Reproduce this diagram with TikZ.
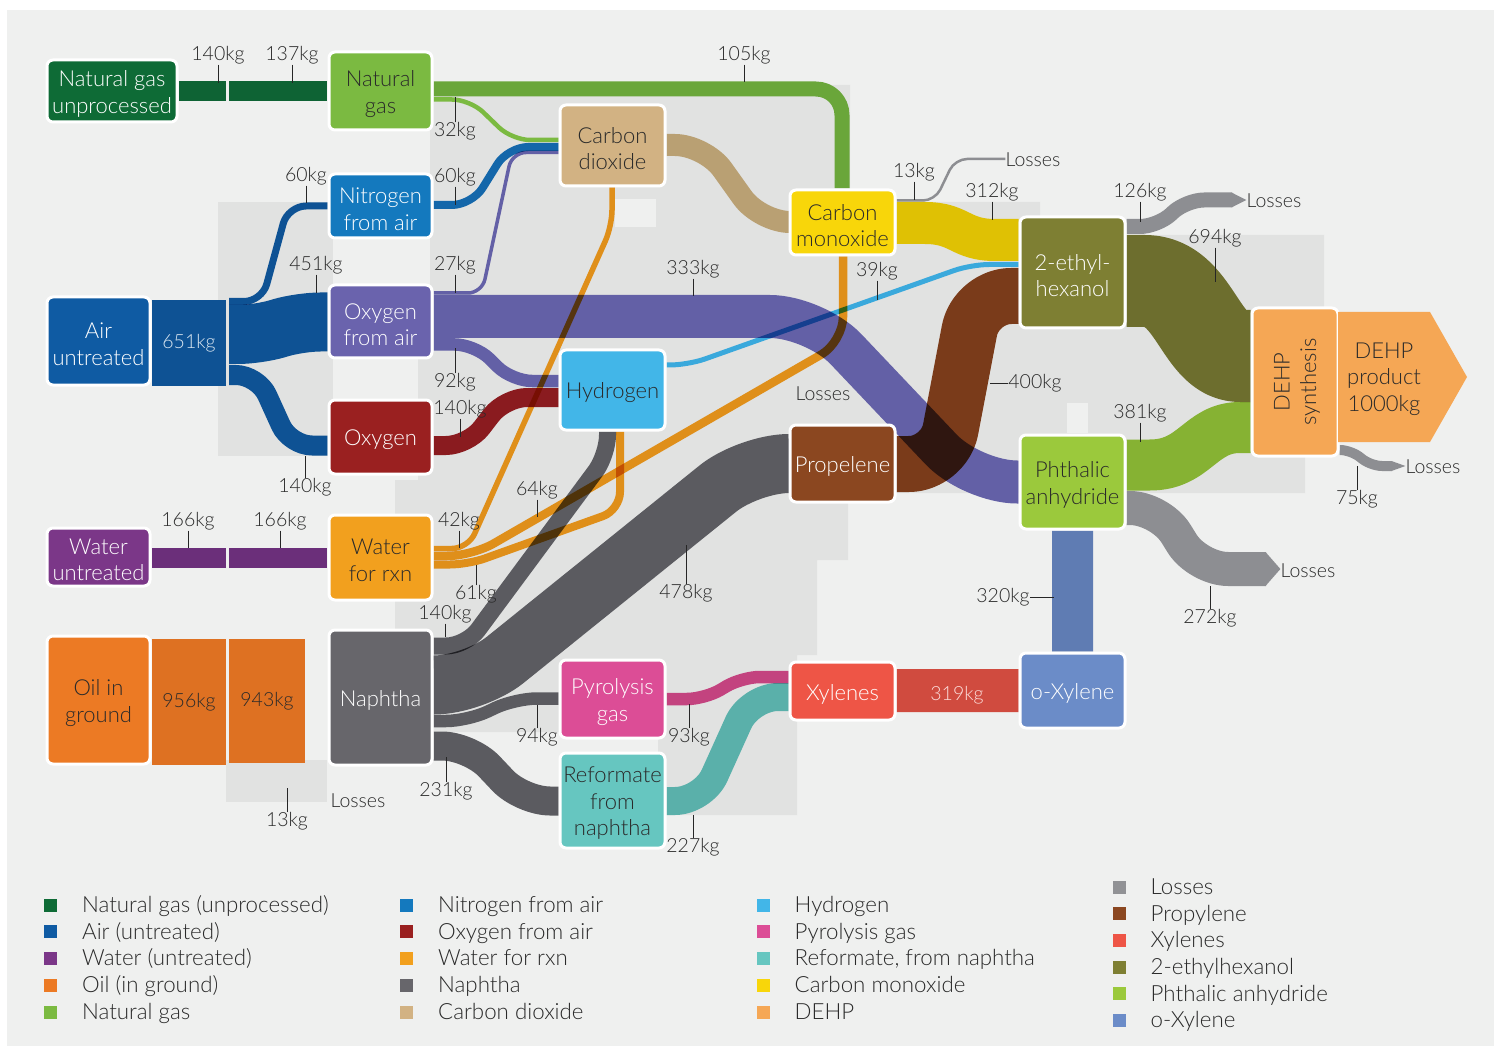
\documentclass[tikz,border=0pt]{standalone}
\usepackage{fontspec}
\setmainfont{Lato}[UprightFont=* Light]
\usetikzlibrary{calc}
\pgfdeclarelayer{bglayer}
\pgfdeclarelayer{flowlayer}
\pgfsetlayers{bglayer,flowlayer,main}
\definecolor{cBG}{HTML}{EFF0EF}
\definecolor{cPNL}{HTML}{E1E2E1}
\definecolor{cTXT}{HTML}{2A2A2A}
\definecolor{cNGU}{HTML}{0E6B36}\definecolor{cNGUb}{HTML}{0E6334}
\definecolor{cNG}{HTML}{7BBA41}\definecolor{cNGf}{HTML}{6AA63A}
\definecolor{cN2}{HTML}{1479BE}\definecolor{cN2f}{HTML}{1467AA}
\definecolor{cOFA}{HTML}{6A63AD}\definecolor{cOFAf}{HTML}{6360A6}
\definecolor{cAIR}{HTML}{0F5BA3}\definecolor{cAIRf}{HTML}{0E5294}
\definecolor{cOXY}{HTML}{9A2020}\definecolor{cOXYf}{HTML}{8A1B1F}
\definecolor{cWU}{HTML}{7B3788}\definecolor{cWUb}{HTML}{6B2F7A}
\definecolor{cWFR}{HTML}{F2A01E}\definecolor{cWFRf}{HTML}{DF8F1A}
\definecolor{cOIL}{HTML}{EC7A24}\definecolor{cOILb}{HTML}{DE7122}
\definecolor{cNAP}{HTML}{67666B}\definecolor{cNAPf}{HTML}{5B5B60}
\definecolor{cCO2}{HTML}{D2B283}\definecolor{cCO2f}{HTML}{B9A073}
\definecolor{cH2}{HTML}{42B6E8}\definecolor{cH2f}{HTML}{3AA9DC}
\definecolor{cCO}{HTML}{F8D60A}\definecolor{cCOf}{HTML}{DFC104}
\definecolor{cPROP}{HTML}{8B4720}\definecolor{cPROPf}{HTML}{7A3B1A}
\definecolor{cPYR}{HTML}{DC4D96}\definecolor{cPYRf}{HTML}{C3437F}
\definecolor{cREF}{HTML}{66C6C0}\definecolor{cREFf}{HTML}{5AB0AA}
\definecolor{cXYL}{HTML}{EE5546}\definecolor{cXYLf}{HTML}{D04B3F}
\definecolor{cOXL}{HTML}{6B8CC8}\definecolor{cOXLf}{HTML}{5F7CB3}
\definecolor{cEH}{HTML}{7E7F33}\definecolor{cEHf}{HTML}{6D6E2E}
\definecolor{cPA}{HTML}{9BC93C}\definecolor{cPAf}{HTML}{86B233}
\definecolor{cDEHP}{HTML}{F5A755}
\definecolor{cLOSS}{HTML}{8D8E92}\definecolor{cLOSSk}{HTML}{919295}
\newcommand{\nfont}{\fontsize{22}{26.5}\selectfont}
\newcommand{\lfont}{\fontsize{19.5}{24}\selectfont}
\newcommand{\gfont}{\fontsize{22.3}{26}\selectfont}
\begin{document}
\begin{tikzpicture}[x=1pt,y=-1pt,
  bx/.style={draw=white, line width=3pt, rounded corners=6pt, inner sep=0pt, align=center, font=\nfont},
  bar/.style={inner sep=0pt, font=\lfont},
  fl/.style={line cap=butt, line join=round},
  lbl/.style={font=\lfont, text=cTXT, inner sep=0pt, text height=14pt, text depth=4pt, yshift=-2.5pt},
  tk/.style={draw=black!85, line width=1pt},
  lsq/.style={inner sep=0pt, minimum width=13pt, minimum height=13pt},
  ltx/.style={font=\gfont, text=cTXT, inner sep=0pt, anchor=west, text height=15pt, text depth=5pt, yshift=-2.5pt}]
\useasboundingbox (0,0) rectangle (1496,1048);
\begin{pgfonlayer}{bglayer}
\fill[white] (0,0) rectangle (1496,1048);
\fill[cBG] (7,10) rectangle (1494,1046);
\fill[cPNL] (430,85) -- (850,85) -- (850,202) -- (1040,202) -- (1040,235) -- (1324,235) -- (1324,457) -- (1305,457) -- (1305,493) -- (848,493) -- (848,560) -- (817,560) -- (817,655) -- (797,655) -- (797,815) -- (658,815) -- (658,732) -- (395,732) -- (395,480) -- (418,480) -- (418,358) -- (430,358) -- cycle;
\fill[cPNL] (218,202) rectangle (333,456);
\fill[cPNL] (226,760) rectangle (327,802);
\fill[cBG] (615,199) rectangle (656,227);
\fill[cBG] (1067,403) rectangle (1088,433);
\end{pgfonlayer}

% nodes
\foreach \n/\c/\t/\w/\h/\x/\y/\s in {
 ngu/cNGU/white/130/62/112/91/{Natural gas\\unprocessed},
 ng/cNG/cTXT/103/78/380.5/91/{Natural\\gas},
 nfa/cN2/white/103/64/380.5/206/{Nitrogen\\from air},
 ofa/cOFA/white/103/73/380.5/321.5/{Oxygen\\from air},
 air/cAIR/white/103/88/98.5/341/{Air\\untreated},
 oxy/cOXY/white/103/74/380.5/437/{Oxygen},
 wu/cWU/white/103/58/98.5/557/{Water\\untreated},
 wfr/cWFR/cTXT/103/85/380.5/557.5/{Water\\for rxn},
 oil/cOIL/cTXT/103/128/98.5/700/{Oil in\\ground},
 nap/cNAP/white/103/135/380.5/697.5/{Naphtha},
 co2/cCO2/cTXT/105/81/612.5/145.5/{Carbon\\dioxide},
 h2/cH2/cTXT/105/80/612.5/390/{Hydrogen},
 com/cCO/cTXT/105/65/842.5/222.5/{Carbon\\monoxide},
 prop/cPROP/white/105/77/842.5/463.5/{Propelene},
 pyr/cPYR/white/105/78/612.5/699/{Pyrolysis\\gas},
 ref/cREF/cTXT/105/95/612.5/800.5/{Reformate\\from\\naphtha},
 xyl/cXYL/white/105/58/842.5/691/{Xylenes},
 oxyl/cOXL/white/105/75/1072.5/690.5/{o-Xylene},
 eh/cEH/white/105/111/1072.5/272.5/{2-ethyl-\\hexanol},
 pa/cPA/cTXT/105/94/1072.5/482/{Phthalic\\anhydride},
 dehps/cDEHP/cTXT/86/148/1295/382/{}}
 {\node[bx, fill=\c, text=\t, minimum width=\w pt, minimum height=\h pt] (\n) at (\x,\y) {\raisebox{-3pt}[\height][\depth]{\parbox{\w pt}{\centering\s}}};}
\node[rotate=90, font=\nfont, text=cTXT, align=center, inner sep=0pt] (dehpst) at (1297,382) {DEHP\\synthesis};
\fill[cDEHP] (1338,312) -- (1430,312) -- (1467,377) -- (1430,442) -- (1338,442) -- cycle;
\node[font=\nfont, text=cTXT, align=center, inner sep=0pt] (dehp) at (1384,379) {DEHP\\product\\1000kg};

% bars
\node[bar, fill=cNGUb, minimum width=47pt, minimum height=20pt] (ngb1) at (202.5,91) {};
\node[bar, fill=cNGUb, minimum width=98pt, minimum height=20pt] (ngb2) at (278,91) {};
\node[bar, fill=cAIRf, text=white!85!cAIR, minimum width=74pt, minimum height=86pt] (b651) at (189,343) {651kg};
\node[bar, fill=cWUb, minimum width=74pt, minimum height=20pt] (wb1) at (189,558) {};
\node[bar, fill=cWUb, minimum width=98pt, minimum height=20pt] (wb2) at (278,558) {};
\node[bar, fill=cOILb, text=cTXT, minimum width=74pt, minimum height=126pt] (ob1) at (189,702) {956kg};
\node[bar, fill=cOILb, text=cTXT, minimum width=76pt, minimum height=124pt] (ob2) at (267,701) {943kg};
\coordinate (asp) at (229,341);

\node[lbl] (los1) at (1033,159) {Losses};
\node[lbl] (los2) at (1274,200) {Losses};
\node[lbl] (los3) at (1433,466) {Losses};
\node[lbl] (los4) at (1308,570) {Losses};
\node[lbl] (los5) at (823,393) {Losses};
\node[lbl] (los6) at (358,800) {Losses};

% flows
\begin{pgfonlayer}{flowlayer}
\begin{scope}[blend group=multiply]
\draw[fl, cNGf, line width=15pt, rounded corners=26pt] (ng.east |- 0,89) -- (842,89) -- (com.north -| 842,0);
\draw[fl, cNG, line width=4.5pt, rounded corners=18pt] (ng.east |- 0,99.5) -- (470,99.5) -- (512,140) -- (co2.west |- 0,140);
\draw[fl, cN2f, line width=8pt, rounded corners=20pt] (nfa.east |- 0,205) -- (472,205) -- (508,147) -- (co2.west |- 0,147);
\draw[fl, cOFAf, line width=3.5pt, rounded corners=14pt] (ofa.east |- 0,293) -- (482,293) -- (512,152.5) -- (co2.west |- 0,152.5);
\draw[fl, cOFAf, line width=43pt, rounded corners=45pt] (ofa.east |- 0,316.5) -- (815,316.5) -- (972,482) -- (pa.west |- 0,482);
\draw[fl, cOFAf, line width=12.5pt, rounded corners=20pt] (ofa.east |- 0,344.5) -- (475,344.5) -- (512,381) -- (h2.west |- 0,381);
\draw[fl, cOXYf, line width=19pt, rounded corners=22pt] (oxy.east |- 0,445.5) -- (468,445.5) -- (505,397.5) -- (h2.west |- 0,397.5);
\draw[fl, cAIRf, line width=7pt, rounded corners=18pt] (asp |- 0,301.5) -- (262,301.5) -- (288,206) -- (nfa.west |- 0,206);
\draw[fl, cAIRf, line width=59pt, rounded corners=20pt] (asp |- 0,334.5) -- (258,334.5) -- (300,322) -- (ofa.west |- 0,322);
\draw[fl, cAIRf, line width=20pt, rounded corners=22pt] (asp |- 0,375) -- (258,375) -- (290,445.5) -- (oxy.west |- 0,445.5);
\draw[fl, cWFRf, line width=5.5pt, rounded corners=16pt] (wfr.east |- 0,548.5) -- (468,548.5) -- (612,226) -- (co2.south -| 612,0);
\draw[fl, cWFRf, line width=8.5pt, rounded corners=25pt] (wfr.east |- 0,556) -- (472,556) -- (843,342) -- (com.south -| 843,0);
\draw[fl, cWFRf, line width=8pt, rounded corners=18pt] (wfr.east |- 0,564.5) -- (468,564.5) -- (620,510) -- (h2.south -| 620,0);
\draw[fl, cNAPf, line width=17pt, rounded corners=20pt] (nap.east |- 0,646) -- (466,646) -- (607.5,455) -- (h2.south -| 607.5,0);
\draw[fl, cNAPf, line width=59pt, rounded corners=40pt] (nap.east |- 0,685) -- (474,685) -- (749,463.5) -- (prop.west |- 0,463.5);
\draw[fl, cNAPf, line width=12.5pt, rounded corners=22pt] (nap.east |- 0,721) -- (468,721) -- (515,698.5) -- (pyr.west |- 0,698.5);
\draw[fl, cNAPf, line width=29pt, rounded corners=28pt] (nap.east |- 0,746) -- (470,746) -- (522,801) -- (ref.west |- 0,801);
\draw[fl, cCO2f, line width=22pt, rounded corners=30pt] (co2.east |- 0,145) -- (705,145) -- (760,222) -- (com.west |- 0,222);
\draw[fl, cH2f, line width=5pt, rounded corners=18pt] (h2.east |- 0,365) -- (688,365) -- (971,264.5) -- (eh.west |- 0,264.5);
\draw[fl, cCOf, line width=42pt] (com.east |- 0,223) -- (925,223) .. controls (960,223) and (960,240) .. (995,240) -- (eh.west |- 0,240);
\draw[fl, cLOSS, line width=2.5pt, rounded corners=12pt] (com.east |- 0,200.5) -- (935,200.5) -- (955,159) -- (los1.west |- 0,159);
\draw[fl, cPROPf, line width=56pt, rounded corners=35pt] (prop.east |- 0,464) -- (944,464) -- (976,296) -- (eh.west |- 0,296);
\draw[fl, cPYRf, line width=12.5pt, rounded corners=18pt] (pyr.east |- 0,699) -- (705,699) -- (742,677) -- (xyl.west |- 0,677);
\draw[fl, cREFf, line width=28pt, rounded corners=28pt] (ref.east |- 0,801) -- (703,801) -- (750,697) -- (xyl.west |- 0,697);
\draw[fl, cXYLf, line width=43pt] (xyl.east |- 0,690.5) -- (oxyl.west |- 0,690.5);
\draw[fl, cOXLf, line width=41pt] (oxyl.north) -- (pa.south);
\draw[fl, cEHf, line width=92pt] (eh.east |- 0,281) -- (1145,281) .. controls (1195,281) and (1200,356) .. (1240,356) -- (dehps.west |- 0,356);
\draw[fl, cPAf, line width=51pt] (pa.east |- 0,465) -- (1150,465) .. controls (1195,465) and (1200,427.5) .. (1240,427.5) -- (dehps.west |- 0,427.5);
\draw[fl, cLOSS, line width=15pt, rounded corners=18pt] (eh.east |- 0,226.5) -- (1158,226.5) -- (1186,200) -- (1232,200) coordinate (T2);
\draw[fl, cLOSS, line width=34pt, rounded corners=30pt] (pa.east |- 0,508) -- (1160,508) -- (1198,569) -- (1266,569) coordinate (T4);
\draw[fl, cLOSS, line width=10pt, rounded corners=12pt] (dehps.east |- 0,450) -- (1352,450) -- (1370,466) -- (1392,466) coordinate (T3);
\end{scope}
\fill[cLOSS] ($(T2)+(-0.5,-7.5)$) -- (T2 -| los2.west) -- ($(T2)+(-0.5,7.5)$) -- cycle;
\fill[cLOSS] ($(T4)+(-0.5,-17)$) -- (T4 -| los4.west) -- ($(T4)+(-0.5,17)$) -- cycle;
\fill[cLOSS] ($(T3)+(-0.5,-5)$) -- (T3 -| los3.west) -- ($(T3)+(-0.5,5)$) -- cycle;
\end{pgfonlayer}

% labels with ticks (tick below label)
\foreach \nm/\x/\y/\t/\e in {
 a1/218/53/140kg/83, a2/292/53/137kg/83, a3/744/53/105kg/82,
 a4/306/174/60kg/203, a5/455/175/60kg/205, a6/316/263/451kg/293,
 a7/455/263/27kg/293, a8/693/267/333kg/296, a9/914/170/13kg/200,
 a10/992/190/312kg/220, a11/877/269/39kg/300, a12/1140/190/126kg/222,
 a13/1215/236/694kg/282, a14/460/407/140kg/437, a15/1140/411/381kg/442,
 a16/537/488/64kg/517, a17/188/519/166kg/548, a18/280/519/166kg/548,
 a19/459/519/42kg/548, a20/445/612/140kg/637}
 {\node[lbl] (\nm) at (\x,\y) {\t}; \draw[tk] (\nm.south) -- (\nm.south |- 0,\e);}
% labels with ticks above label
\foreach \nm/\x/\y/\t/\e in {
 b1/455/129/32kg/97, b2/455/380/92kg/348, b3/305/485/140kg/456,
 b4/1357/497/75kg/466, b5/476/592/61kg/565, b6/686/591/478kg/545,
 b7/1210/616/272kg/586, b8/537/735/94kg/705, b9/689/735/93kg/704,
 b10/446/789/231kg/757, b11/287/819/13kg/788, b12/693/845/227kg/815}
 {\node[lbl] (\nm) at (\x,\y) {\t}; \draw[tk] (\nm.north) -- (\nm.north |- 0,\e);}
\node[lbl] (c1) at (1035,381) {400kg}; \draw[tk] (c1.west) -- (c1.west -| 990,0);
\node[lbl] (c2) at (1003,595) {320kg}; \draw[tk] (c2.east) -- (c2.east -| 1054,0);
\node[lbl, text=white!80!cXYL] (c3) at (957,693) {319kg};

% legend
\foreach \nm/\x/\y/\c/\t in {
 k1/50.5/905/cNGU/Natural gas (unprocessed), k2/50.5/931.5/cAIR/Air (untreated),
 k3/50.5/958/cWU/Water (untreated), k4/50.5/985/cOIL/Oil (in ground),
 k5/50.5/1012/cNG/Natural gas,
 k6/406.5/905/cN2/Nitrogen from air, k7/406.5/931.5/cOXY/Oxygen from air,
 k8/406.5/958/cWFR/Water for rxn, k9/406.5/985/cNAP/Naphtha,
 k10/406.5/1012/cCO2/Carbon dioxide,
 k11/763/905/cH2/Hydrogen, k12/763/931.5/cPYR/Pyrolysis gas,
 k13/763/958/cREF/{Reformate, from naphtha}, k14/763/985/cCO/Carbon monoxide,
 k15/763/1012/cDEHP/DEHP,
 k16/1119/887/cLOSSk/Losses, k17/1119/913.5/cPROP/Propylene,
 k18/1119/940/cXYL/Xylenes, k19/1119/967/cEH/2-ethylhexanol,
 k20/1119/993.5/cPA/Phthalic anhydride, k21/1119/1020/cOXL/o-Xylene}
 {\node[lsq, fill=\c] (\nm) at (\x,\y) {}; \node[ltx] (\nm t) at ($(\nm)+(31.5,0)$) {\t};}
\end{tikzpicture}
\end{document}
